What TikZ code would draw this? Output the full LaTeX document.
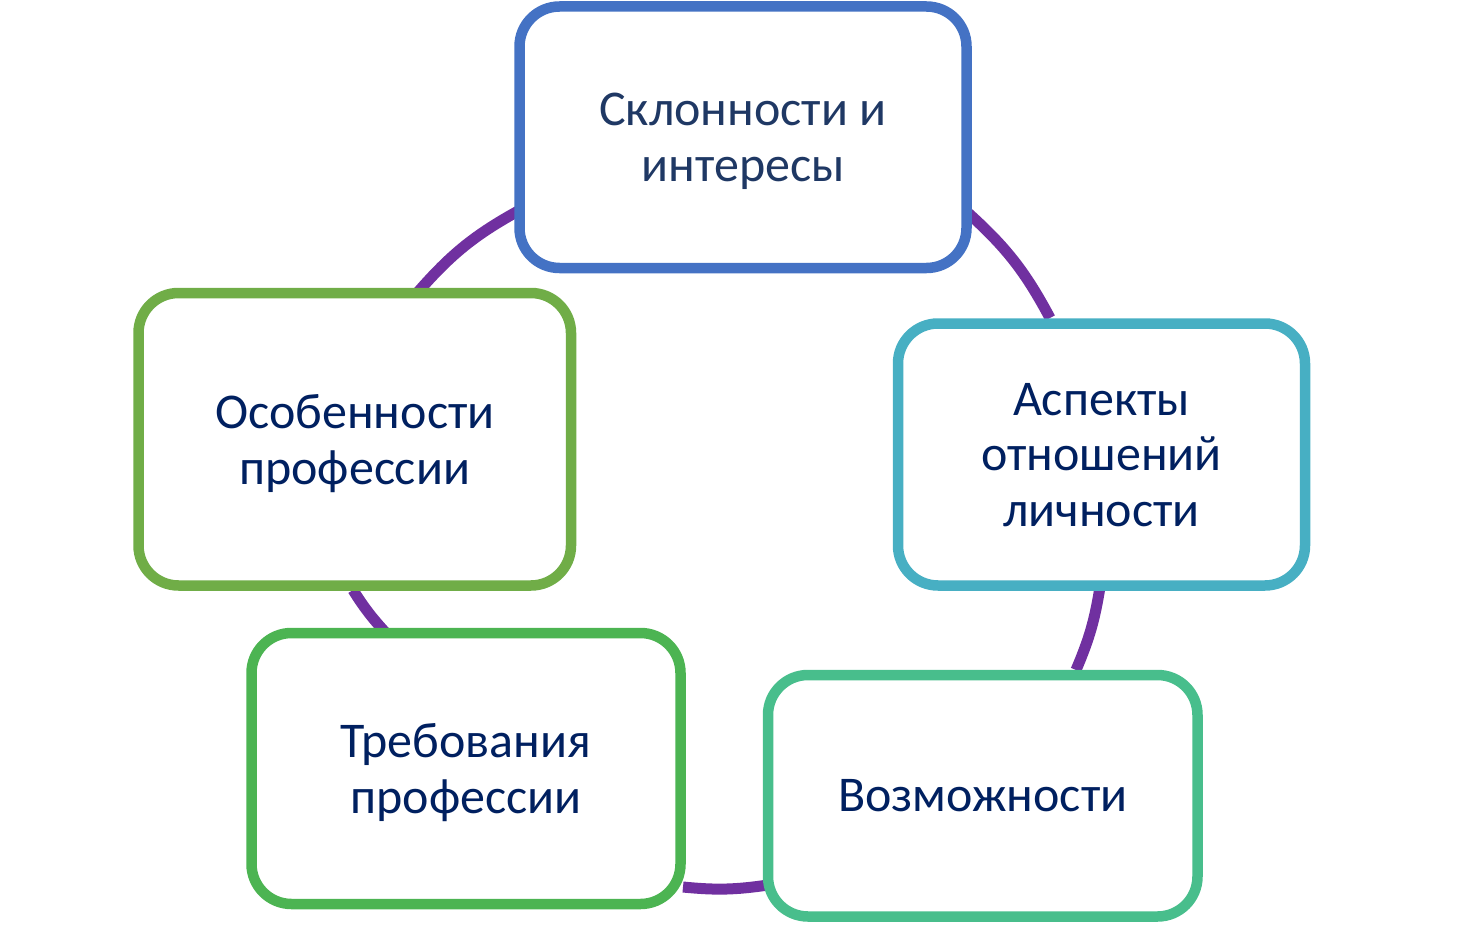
\documentclass[tikz,border=0pt]{standalone}
\usepackage{fontspec}
\setmainfont{Carlito}
\definecolor{cblue}{HTML}{4472C4}
\definecolor{cteal}{HTML}{47AFC3}
\definecolor{cmint}{HTML}{48BE8C}
\definecolor{cgreen}{HTML}{4CB452}
\definecolor{colive}{HTML}{70AD47}
\definecolor{cpurple}{HTML}{7030A0}
\definecolor{tnavy}{HTML}{002060}
\definecolor{tblue}{HTML}{1F3864}
\tikzset{
  cyclebox/.style={draw, line width=10.5pt, rounded corners=40pt, fill=white,
    align=center, inner sep=0pt, text=tnavy, text depth=0pt,
    font=\fontsize{50}{55.5}\selectfont},
  cyclearc/.style={draw=cpurple, line width=11pt}
}
\begin{document}
\begin{tikzpicture}[x=1pt,y=-1pt]
\useasboundingbox (0,0) rectangle (1472,928);
% arcs
\coordinate (a1s) at (418,292); \coordinate (a1e) at (520,210);
\coordinate (a2s) at (967,212); \coordinate (a2e) at (1050,318);
\coordinate (a3s) at (1100,587); \coordinate (a3e) at (1076,670);
\coordinate (a4s) at (768,885); \coordinate (a4e) at (683,887);
\coordinate (a5s) at (385,632); \coordinate (a5e) at (353,590);
\draw[cyclearc] (a1s) to[bend left=10] (a1e);
\draw[cyclearc] (a2s) to[bend left=10] (a2e);
\draw[cyclearc] (a3s) to[bend left=7] (a3e);
\draw[cyclearc] (a4s) to[bend left=7] (a4e);
\draw[cyclearc] (a5s) to[bend left=5] (a5e);
% boxes
\node[cyclebox, draw=cblue, text=tblue, minimum width=447pt, minimum height=261.5pt]
  (top) at (743,137.25) {Склонности и\\интересы};
\node[cyclebox, draw=cteal, minimum width=407pt, minimum height=262pt]
  (right) at (1101.5,454.5) {Аспекты\\отношений\\личности};
\node[cyclebox, draw=cmint, minimum width=429.5pt, minimum height=241.5pt]
  (bright) at (982.75,795.75) {Возможности};
\node[cyclebox, draw=cgreen, minimum width=429pt, minimum height=271pt]
  (bleft) at (466,768.5) {Требования\\профессии};
\node[cyclebox, draw=colive, minimum width=432.5pt, minimum height=292.5pt]
  (left) at (354.75,439.25) {Особенности\\профессии};
\end{tikzpicture}
\end{document}
